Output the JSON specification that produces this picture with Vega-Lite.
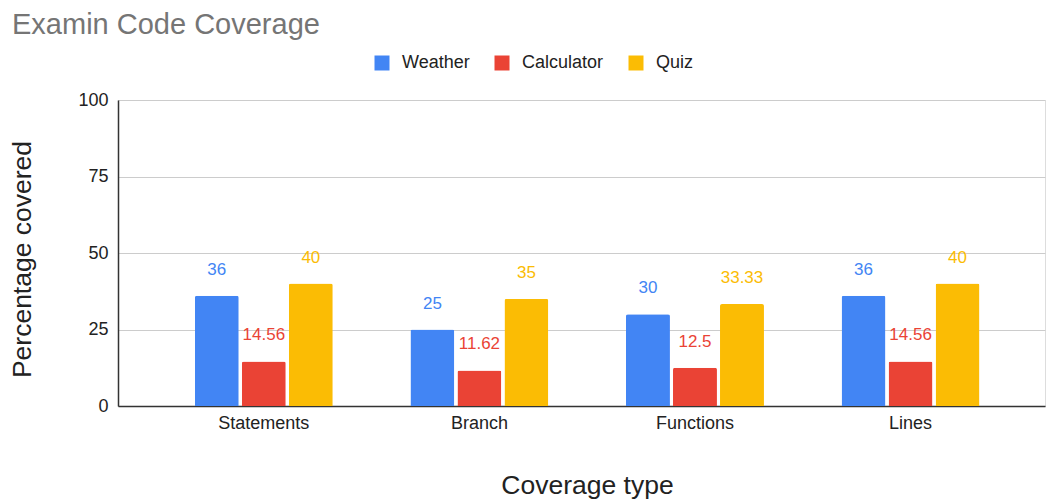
{
  "$schema": "https://vega.github.io/schema/vega-lite/v6.json",
  "autosize": "none",
  "width": 927,
  "height": 306,
  "padding": {"left": 118, "top": 100, "right": 4, "bottom": 96},
  "background": "white",
  "title": {
    "text": "Examin Code Coverage",
    "anchor": "start",
    "frame": "group",
    "dx": -106,
    "offset": 14,
    "font": "Liberation Sans",
    "fontSize": 29,
    "fontWeight": "normal",
    "color": "#757575"
  },
  "data": {
    "values": [
      {"type": "Statements", "app": "Weather", "pct": 36},
      {"type": "Statements", "app": "Calculator", "pct": 14.56},
      {"type": "Statements", "app": "Quiz", "pct": 40},
      {"type": "Branch", "app": "Weather", "pct": 25},
      {"type": "Branch", "app": "Calculator", "pct": 11.62},
      {"type": "Branch", "app": "Quiz", "pct": 35},
      {"type": "Functions", "app": "Weather", "pct": 30},
      {"type": "Functions", "app": "Calculator", "pct": 12.5},
      {"type": "Functions", "app": "Quiz", "pct": 33.33},
      {"type": "Lines", "app": "Weather", "pct": 36},
      {"type": "Lines", "app": "Calculator", "pct": 14.56},
      {"type": "Lines", "app": "Quiz", "pct": 40}
    ]
  },
  "encoding": {
    "x": {
      "field": "type",
      "type": "nominal",
      "sort": ["Statements", "Branch", "Functions", "Lines"],
      "scale": {"paddingInner": 0.36, "paddingOuter": 0.33, "align": 0.54},
      "axis": {
        "title": "Coverage type",
        "titleFont": "Liberation Sans",
        "titleFontSize": 26.5,
        "titleFontWeight": "normal",
        "titleColor": "#222222",
        "titlePadding": 40,
        "titleX": 469,
        "labelAngle": 0,
        "labelFont": "Liberation Sans",
        "labelFontSize": 18,
        "labelColor": "#222222",
        "labelPadding": 8,
        "ticks": false,
        "domainColor": "#333333",
        "domainWidth": 1.5,
        "grid": false
      }
    },
    "xOffset": {
      "field": "app",
      "type": "nominal",
      "sort": ["Weather", "Calculator", "Quiz"],
      "scale": {"paddingInner": 0.065, "paddingOuter": 0}
    },
    "y": {
      "field": "pct",
      "type": "quantitative",
      "scale": {"domain": [0, 100]},
      "axis": {
        "title": "Percentage covered",
        "titleFont": "Liberation Sans",
        "titleFontSize": 26.5,
        "titleFontWeight": "normal",
        "titleColor": "#222222",
        "titlePadding": 41,
        "titleY": 159,
        "values": [0, 25, 50, 75, 100],
        "labelFont": "Liberation Sans",
        "labelFontSize": 18,
        "labelColor": "#222222",
        "labelPadding": 10,
        "ticks": false,
        "domainColor": "#333333",
        "domainWidth": 1.5,
        "gridColor": "#cccccc",
        "gridWidth": 1
      }
    },
    "color": {
      "field": "app",
      "type": "nominal",
      "sort": ["Weather", "Calculator", "Quiz"],
      "scale": {
        "domain": ["Weather", "Calculator", "Quiz"],
        "range": ["#4285F4", "#EA4335", "#FBBC04"]
      },
      "legend": {
        "title": null,
        "orient": "none",
        "direction": "horizontal",
        "legendX": 255,
        "legendY": -46,
        "symbolType": "square",
        "symbolSize": 225,
        "symbolStrokeWidth": 0,
        "labelFont": "Liberation Sans",
        "labelFontSize": 18,
        "labelColor": "#222222",
        "labelOffset": 11,
        "columnPadding": 23
      }
    }
  },
  "layer": [
    {
      "mark": {"type": "bar", "cornerRadiusTopLeft": 2, "cornerRadiusTopRight": 2}
    },
    {
      "mark": {
        "type": "text",
        "dy": -26,
        "baseline": "middle",
        "font": "Liberation Sans",
        "fontSize": 17
      },
      "encoding": {
        "text": {"field": "pct", "type": "quantitative"}
      }
    }
  ]
}
